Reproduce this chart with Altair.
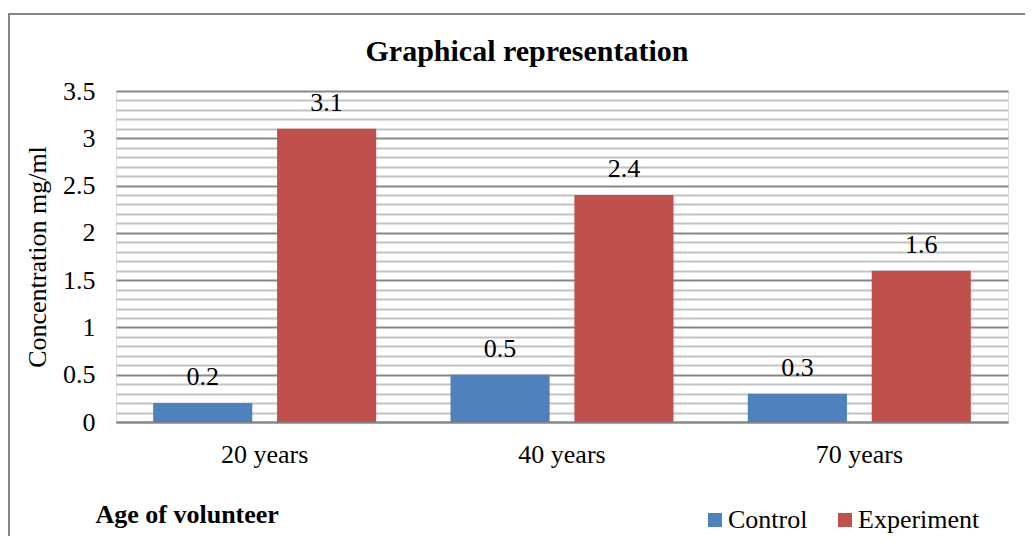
import altair as alt
import pandas as pd

ages = ["20 years", "40 years", "70 years"]
control = [0.2, 0.5, 0.3]
experiment = [3.1, 2.4, 1.6]
series = ["Control", "Experiment"]
colors = ["#4f81bd", "#c0504d"]
y_ticks = [0, 0.1, 0.2, 0.3, 0.4, 0.5, 0.6, 0.7, 0.8, 0.9, 1, 1.1, 1.2, 1.3, 1.4, 1.5,
           1.6, 1.7, 1.8, 1.9, 2, 2.1, 2.2, 2.3, 2.4, 2.5, 2.6, 2.7, 2.8, 2.9, 3,
           3.1, 3.2, 3.3, 3.4, 3.5]

rows = []
for a, c, e in zip(ages, control, experiment):
    rows.append({"age": a, "series": "Control", "value": c})
    rows.append({"age": a, "series": "Experiment", "value": e})
df = pd.DataFrame(rows)

FONT = "Liberation Serif"
FS = 26

x_enc = alt.X(
    "age:N",
    sort=ages,
    scale=alt.Scale(paddingInner=0.25, paddingOuter=0.125),
    axis=alt.Axis(
        title="Age of volunteer",
        titleFont=FONT,
        titleFontSize=FS,
        titleFontWeight="bold",
        titleColor="#000000",
        titleAnchor="start",
        titleAlign="left",
        titleBaseline="middle",
        titleX=-21,
        titleY=92,
        labelFont=FONT,
        labelFontSize=FS,
        labelColor="#000000",
        labelAngle=0,
        labelPadding=32,
        labelBaseline="middle",
        ticks=False,
        domainColor="#868686",
        domainWidth=2,
        grid=False,
    ),
)

y_enc = alt.Y(
    "value:Q",
    scale=alt.Scale(domain=[0, 3.5], nice=False, zero=True),
    axis=alt.Axis(
        title="Concentration mg/ml",
        titleFont=FONT,
        titleFontSize=FS,
        titleFontWeight="normal",
        titleColor="#000000",
        titleX=-79,
        titleAnchor="middle",
        titleBaseline="middle",
        values=y_ticks,
        labelExpr="round(datum.value * 10) % 5 == 0 ? '' + datum.value : ''",
        labelOverlap=False,
        labelFont=FONT,
        labelFontSize=FS,
        labelColor="#000000",
        labelPadding=21,
        ticks=False,
        domain=False,
        grid=True,
        gridWidth=2,
        gridColor={
            "condition": {"test": "round(datum.value * 10) % 5 == 0", "value": "#878787"},
            "value": "#c2c2c2",
        },
    ),
)

xoff = alt.XOffset("series:N", sort=series, scale=alt.Scale(paddingInner=0.2, paddingOuter=0))

base = alt.Chart(df)

bars = base.mark_bar().encode(
    x=x_enc,
    xOffset=xoff,
    y=y_enc,
    color=alt.Color(
        "series:N",
        sort=series,
        scale=alt.Scale(domain=series, range=colors),
        legend=alt.Legend(
            title=None,
            orient="none",
            legendX=586,
            legendY=416,
            direction="horizontal",
            symbolType="square",
            symbolSize=196,
            symbolStrokeWidth=0,
            labelFont=FONT,
            labelFontSize=FS,
            labelColor="#000000",
            labelOffset=0,
            columnPadding=24,
        ),
    ),
)

labels = base.mark_text(font=FONT, fontSize=FS, color="#000000", baseline="middle", dy=-26).encode(
    x=x_enc,
    xOffset=xoff,
    y=y_enc,
    text=alt.Text("value:Q"),
)

border = alt.Chart(alt.Data(values=[{}])).mark_rect(
    fill=None, stroke="#868686", strokeWidth=2
).encode(
    x=alt.value(-107),
    x2=alt.value(960),
    y=alt.value(-77),
    y2=alt.value(480),
)

chart = alt.layer(border, bars, labels).properties(
    width=892,
    height=331,
    autosize=alt.AutoSizeParams(type="none"),
    padding={"left": 108, "top": 83, "right": 17, "bottom": 114},
    title=alt.Title(
        "Graphical representation",
        font=FONT,
        fontSize=30,
        fontWeight="bold",
        color="#000000",
        anchor="middle",
        frame="group",
        dx=-35,
        offset=0,
        dy=69,
        baseline="middle",
    ),
).configure_view(stroke=None).configure(background="white")

chart.save("out.html", embed_options={"renderer": "svg", "actions": False})
